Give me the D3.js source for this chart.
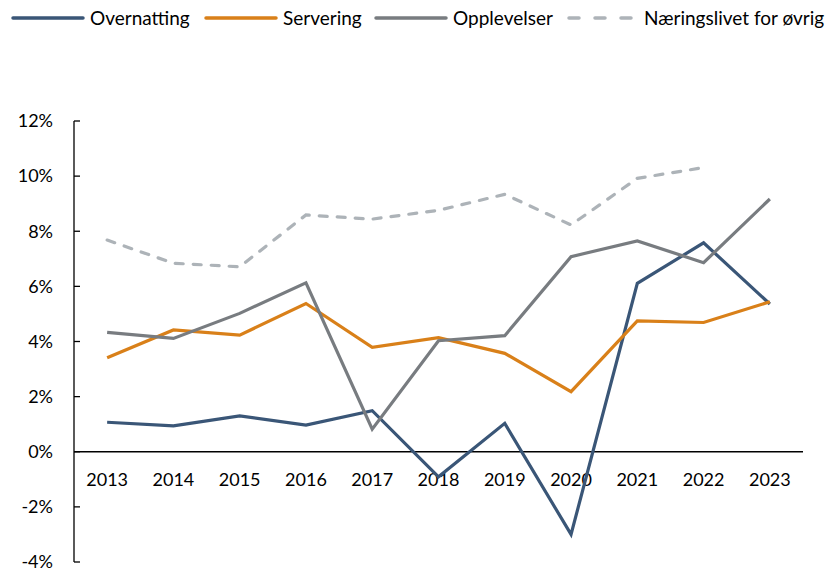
<!DOCTYPE html>
<html>
<head>
<meta charset="utf-8">
<script src="https://cdn.jsdelivr.net/npm/d3@7"></script>
<style>
  body { margin: 0; background: #fff; }
  svg text { font-family: Lato, "Open Sans", sans-serif; fill: #000; }
</style>
</head>
<body>
<svg id="chart" width="833" height="569"></svg>
<script>
// data (percent)
const years = ['2013','2014','2015','2016','2017','2018','2019','2020','2021','2022','2023'];
const overnatting = [1.07, 0.94, 1.30, 0.97, 1.49, -0.91, 1.03, -3.00, 6.11, 7.58, 5.36];
const servering   = [3.41, 4.42, 4.23, 5.38, 3.79, 4.14, 3.57, 2.18, 4.75, 4.69, 5.44];
const opplevelser = [4.33, 4.11, 5.02, 6.13, 0.82, 4.03, 4.21, 7.08, 7.65, 6.86, 9.17];
const naeringsliv = [7.68, 6.84, 6.71, 8.59, 8.44, 8.76, 9.34, 8.23, 9.92, 10.31, null];
const yTicks = [-4, -2, 0, 2, 4, 6, 8, 10, 12];

const series = [
  {name: 'Overnatting', values: overnatting, color: '#3a5677', dash: null},
  {name: 'Servering', values: servering, color: '#d98019', dash: null},
  {name: 'Opplevelser', values: opplevelser, color: '#787c80', dash: null},
  {name: 'Næringslivet for øvrig', values: naeringsliv, color: '#adb3b8', dash: '8,10'}
];

const svg = d3.select('#chart');
const margin = {left: 74, right: 30, top: 121, bottom: 7};
const width = 803 - margin.left;
const yTop = 121, yBottom = 562;

const x = d3.scaleBand().domain(years).range([margin.left, margin.left + width]);
const y = d3.scaleLinear().domain([-4, 12]).range([yBottom, yTop]);

// y axis: vertical line with inside ticks
const gY = svg.append('g');
gY.append('line')
  .attr('x1', margin.left).attr('x2', margin.left)
  .attr('y1', y(12)).attr('y2', y(-4))
  .attr('stroke', '#000').attr('stroke-width', 1.3);
gY.selectAll('.tick').data(yTicks).enter().append('line')
  .attr('x1', margin.left).attr('x2', margin.left + 6)
  .attr('y1', d => y(d)).attr('y2', d => y(d))
  .attr('stroke', '#000').attr('stroke-width', 1.3);
gY.selectAll('text').data(yTicks).enter().append('text')
  .attr('x', 53).attr('y', d => y(d))
  .attr('dy', '0.35em')
  .attr('text-anchor', 'end')
  .attr('font-size', 18)
  .text(d => d + '%');

// x axis at zero
svg.append('line')
  .attr('x1', margin.left).attr('x2', margin.left + width)
  .attr('y1', y(0)).attr('y2', y(0))
  .attr('stroke', '#000').attr('stroke-width', 1.3);
svg.append('g').selectAll('text').data(years).enter().append('text')
  .attr('x', d => x(d) + x.bandwidth() / 2)
  .attr('y', y(0) + 28)
  .attr('dy', '0.35em')
  .attr('text-anchor', 'middle')
  .attr('font-size', 18)
  .text(d => d);

// lines
const line = d3.line()
  .defined(d => d.v !== null)
  .x(d => x(d.year) + x.bandwidth() / 2)
  .y(d => y(d.v));

for (let s of series) {
  let pts = years.map((yr, i) => ({year: yr, v: s.values[i]}));
  svg.append('path')
    .datum(pts)
    .attr('d', line)
    .attr('fill', 'none')
    .attr('stroke', s.color)
    .attr('stroke-width', 3.2)
    .attr('stroke-linejoin', 'miter')
    .attr('stroke-linecap', s.dash ? 'round' : 'butt')
    .attr('stroke-dasharray', s.dash);
}

// legend
const legendX = [13, 206, 376, 567];
const legend = svg.append('g');
series.forEach((s, i) => {
  let lx = legendX[i];
  legend.append('line')
    .attr('x1', lx + (s.dash ? 2 : 0)).attr('x2', lx + 70)
    .attr('y1', 18).attr('y2', 18)
    .attr('stroke', s.color)
    .attr('stroke-width', 3.5)
    .attr('stroke-linecap', 'round')
    .attr('stroke-dasharray', s.dash ? '10,16' : null);
  legend.append('text')
    .attr('x', lx + 77).attr('y', 18)
    .attr('dy', '0.35em')
    .attr('font-size', 19)
    .text(s.name);
});
</script>
</body>
</html>
